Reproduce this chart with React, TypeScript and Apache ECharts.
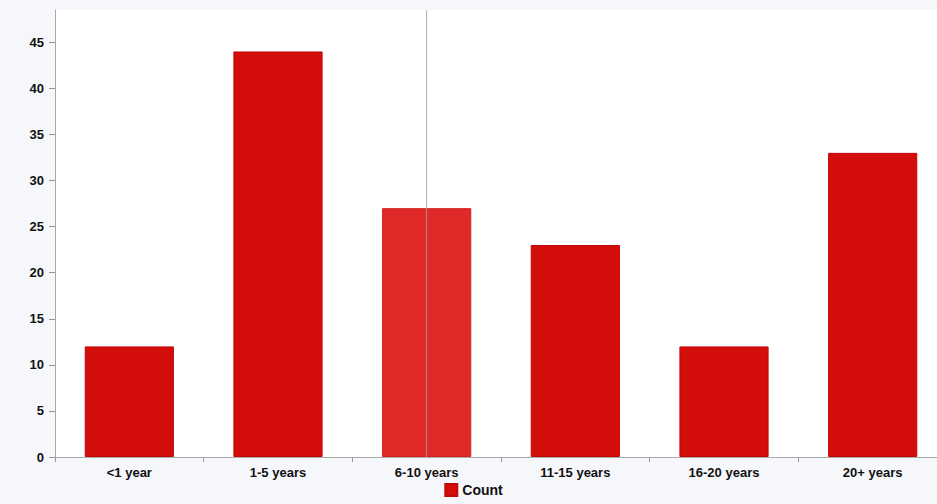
import React, { useEffect, useRef } from "react";
import * as echarts from "echarts";

const categories = ["<1 year", "1-5 years", "6-10 years", "11-15 years", "16-20 years", "20+ years"];
const counts = [12, 44, 27, 23, 12, 33];
const highlighted = "6-10 years";
const seriesName = "Count";

const BAR = "#d30d0a";
const BAR_HI = "#e02a2a";
const FONT = "'Liberation Sans', Arial, sans-serif";

export default function App() {
  const ref = useRef<HTMLDivElement>(null);

  useEffect(() => {
    if (!ref.current) return;
    const chart = echarts.init(ref.current, null, { renderer: "svg" });
    chart.setOption({
      animation: false,
      backgroundColor: "#f6f7fb",
      textStyle: { fontFamily: FONT },
      grid: {
        show: true,
        backgroundColor: "#ffffff",
        borderWidth: 0,
        left: 55,
        top: 10,
        right: 0,
        bottom: 47,
        containLabel: false,
      },
      legend: {
        bottom: 2,
        left: "center",
        itemWidth: 12,
        itemHeight: 12,
        icon: "rect",
        itemGap: 6,
        textStyle: { fontSize: 14, fontWeight: "bold", color: "#111", fontFamily: FONT },
        data: [seriesName],
      },
      xAxis: {
        type: "category",
        data: categories,
        axisLine: { lineStyle: { color: "#aaaaaa", width: 1 } },
        axisTick: { show: true, length: 5, lineStyle: { color: "#999999" } },
        axisLabel: { color: "#111", fontSize: 13, fontWeight: "bold", margin: 9, fontFamily: FONT },
        splitLine: { show: false },
      },
      yAxis: {
        type: "value",
        min: 0,
        max: 48.5,
        interval: 5,
        axisLine: { show: true, lineStyle: { color: "#aaaaaa", width: 1 } },
        axisTick: { show: true, length: 6, lineStyle: { color: "#999999" } },
        axisLabel: { color: "#111", fontSize: 13, fontWeight: "bold", margin: 11, showMaxLabel: false, fontFamily: FONT },
        splitLine: { show: false },
      },
      series: [
        {
          name: seriesName,
          type: "bar",
          barCategoryGap: "40%",
          itemStyle: { color: BAR, borderColor: "#c20a08", borderWidth: 1 },
          data: counts.map((v, i) =>
            categories[i] === highlighted
              ? { value: v, itemStyle: { color: BAR_HI, borderColor: "#d42020" } }
              : v
          ),
          markLine: {
            silent: true,
            symbol: "none",
            label: { show: false },
            lineStyle: { color: "#a0a0a0", width: 1, type: "solid", opacity: 0.8 },
            data: [{ xAxis: highlighted }],
          },
        },
      ],
    });
    return () => chart.dispose();
  }, []);

  // The plot runs slightly past the right edge of the frame, so the chart is
  // a little wider than its clipping box.
  return (
    <div style={{ width: 937, height: 504, position: "absolute", left: 0, top: 0, overflow: "hidden", background: "#f6f7fb" }}>
      <div ref={ref} style={{ width: 947, height: 504 }} />
    </div>
  );
}
